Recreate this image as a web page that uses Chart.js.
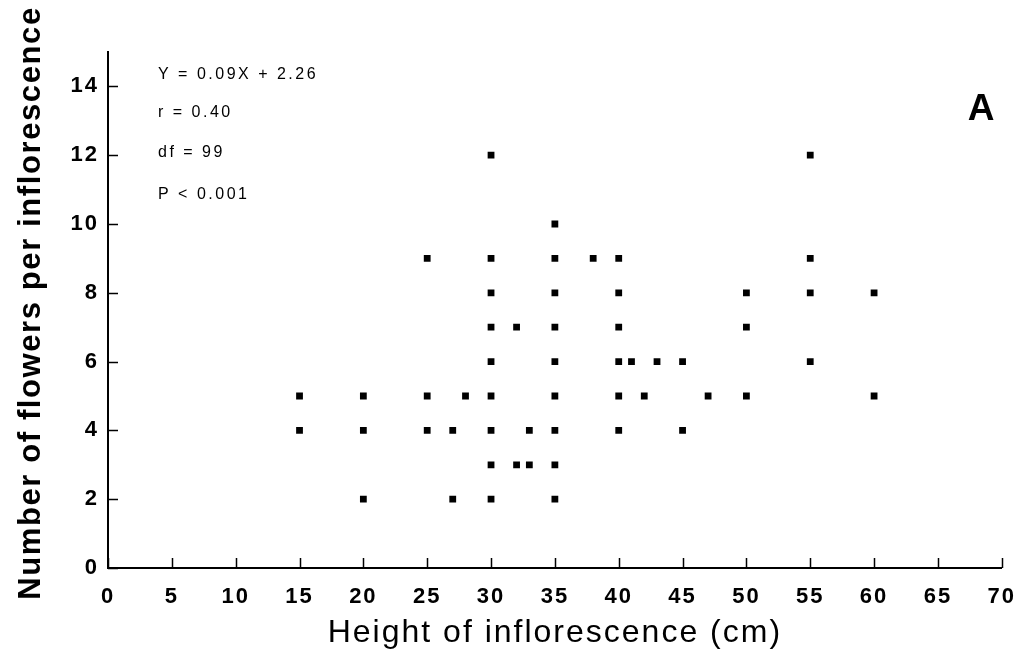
<!DOCTYPE html>
<html>
<head>
<meta charset="utf-8">
<title>Flowers per inflorescence vs height</title>
<script src="https://cdn.jsdelivr.net/npm/chart.js@4.4.1/dist/chart.umd.min.js"></script>
<style>
  html, body { margin: 0; padding: 0; background: #fff; }
  canvas { display: block; }
</style>
</head>
<body>
<canvas id="scatter" width="1030" height="657"></canvas>
<script>
// Inflorescence height (cm) and flower count, one entry per plotted point
const heights = [
  15, 15,
  20, 20, 20,
  25, 25, 25,
  27, 27,
  28,
  30, 30, 30, 30, 30, 30, 30, 30, 30,
  32, 32,
  33, 33,
  35, 35, 35, 35, 35, 35, 35, 35, 35,
  38,
  40, 40, 40, 40, 40, 40,
  41, 42, 43,
  45, 45,
  47,
  50, 50, 50,
  55, 55, 55, 55,
  60, 60
];
const flowers = [
  5, 4,
  5, 4, 2,
  9, 5, 4,
  4, 2,
  5,
  12, 9, 8, 7, 6, 5, 4, 3, 2,
  7, 3,
  4, 3,
  10, 9, 8, 7, 6, 5, 4, 3, 2,
  9,
  9, 8, 7, 6, 5, 4,
  6, 5, 6,
  6, 4,
  5,
  8, 7, 5,
  12, 9, 8, 6,
  8, 5
];

const xTicks = [0, 5, 10, 15, 20, 25, 30, 35, 40, 45, 50, 55, 60, 65, 70];
const yTicks = [0, 2, 4, 6, 8, 10, 12, 14];

const statLines = ['Y = 0.09X + 2.26', 'r = 0.40', 'df = 99', 'P < 0.001'];
const panelLabel = 'A';
const yTitle = 'Number of flowers per inflorescence';

const points = heights.map((h, i) => ({ x: h, y: flowers[i] }));

const FONT = "'Liberation Sans', Arial, Helvetica, sans-serif";

// wider letter spacing for all chart text
const spacing = {
  id: 'spacing',
  beforeDraw(chart) {
    chart.ctx.letterSpacing = '2px';
  }
};

// inward tick marks, y title, stats block and panel letter
const extras = {
  id: 'extras',
  afterDraw(chart) {
    const ctx = chart.ctx;
    const { x, y } = chart.scales;
    const area = chart.chartArea;

    ctx.save();
    ctx.strokeStyle = '#000';
    ctx.lineWidth = 1.5;
    ctx.beginPath();
    xTicks.forEach(v => {
      const px = Math.round(x.getPixelForValue(v)) + 0.5;
      ctx.moveTo(px, area.bottom);
      ctx.lineTo(px, area.bottom - 10);
    });
    yTicks.forEach(v => {
      const py = Math.round(y.getPixelForValue(v)) + 0.5;
      ctx.moveTo(area.left, py);
      ctx.lineTo(area.left + 10, py);
    });
    ctx.stroke();

    ctx.fillStyle = '#000';
    ctx.textBaseline = 'middle';

    // rotated y axis title
    ctx.save();
    ctx.translate(31, 303);
    ctx.rotate(-Math.PI / 2);
    ctx.textAlign = 'center';
    ctx.letterSpacing = '1.6px';
    ctx.font = 'bold 31px ' + FONT;
    ctx.fillText(yTitle, 0, 0);
    ctx.restore();

    ctx.textAlign = 'left';
    ctx.letterSpacing = '2.5px';
    ctx.font = '16px ' + FONT;
    const rows = [75, 113, 153, 195];
    statLines.forEach((t, i) => ctx.fillText(t, 158, rows[i]));

    ctx.letterSpacing = '0px';
    ctx.textAlign = 'center';
    ctx.font = 'bold 37px ' + FONT;
    ctx.fillText(panelLabel, 981, 110);
    ctx.restore();
  }
};

new Chart(document.getElementById('scatter'), {
  type: 'scatter',
  data: {
    datasets: [{
      data: points,
      pointStyle: 'rect',
      pointRadius: 4.8,
      pointHoverRadius: 4.8,
      backgroundColor: '#000',
      borderColor: '#000',
      borderWidth: 0
    }]
  },
  options: {
    responsive: false,
    devicePixelRatio: 1,
    animation: false,
    layout: { padding: { top: 52, right: 23, bottom: 0, left: 0 } },
    plugins: {
      legend: { display: false },
      tooltip: { enabled: false }
    },
    scales: {
      x: {
        type: 'linear',
        min: 0,
        max: 70,
        afterBuildTicks: scale => { scale.ticks = xTicks.map(v => ({ value: v })); },
        afterFit: scale => { scale.height = 89; },
        grid: { display: false, drawTicks: false },
        border: { display: true, color: '#000', width: 2 },
        ticks: {
          color: '#000',
          padding: 16,
          maxRotation: 0,
          font: { family: FONT, size: 22, weight: 'bold' }
        },
        title: {
          display: true,
          text: 'Height of inflorescence (cm)',
          color: '#000',
          padding: 5,
          font: { family: FONT, size: 32, weight: 'normal' }
        }
      },
      y: {
        type: 'linear',
        min: 0,
        max: 15,
        afterBuildTicks: scale => { scale.ticks = yTicks.map(v => ({ value: v })); },
        afterFit: scale => { scale.width = 108; },
        grid: { display: false, drawTicks: false },
        border: { display: true, color: '#000', width: 2 },
        ticks: {
          color: '#000',
          padding: 9,
          font: { family: FONT, size: 22, weight: 'bold' }
        }
      }
    }
  },
  plugins: [spacing, extras]
});
</script>
</body>
</html>
